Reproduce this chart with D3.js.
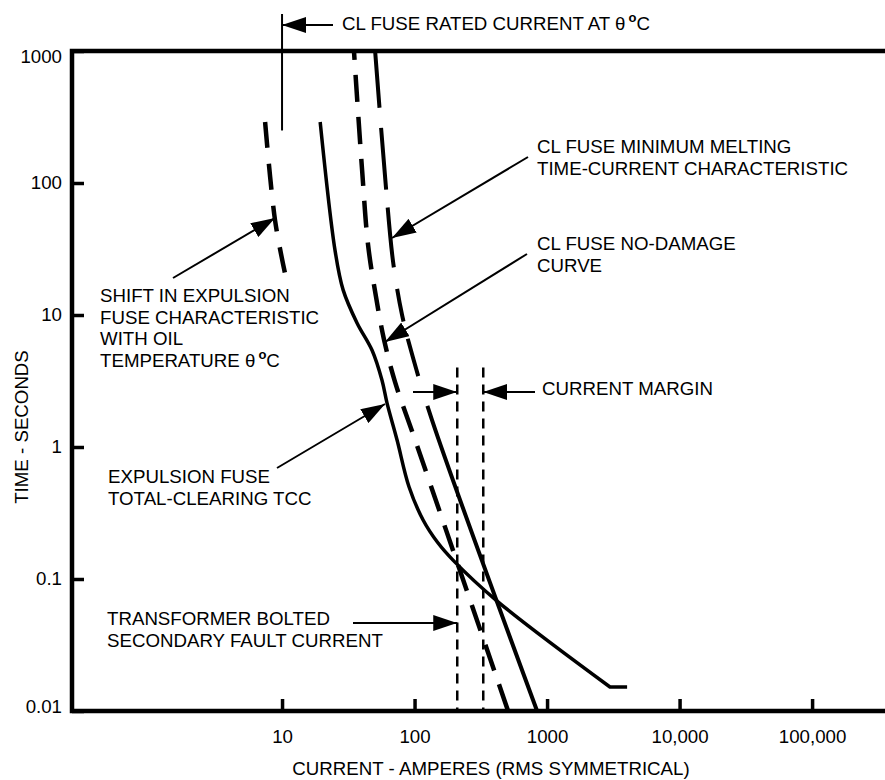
<!DOCTYPE html>
<html>
<head>
<meta charset="utf-8">
<script src="https://cdn.jsdelivr.net/npm/d3@7"></script>
<style>
  body { margin: 0; background: #fff; }
  svg text { font-family: "Liberation Sans", Arial, sans-serif; font-size: 18.7px; fill: #000; }
</style>
</head>
<body>
<div class="chartBox"></div>
<script>
// tick values
var xTicks = [10, 100, 1000, 10000, 100000];
var yTicks = [0.01, 0.1, 1, 10, 100, 1000];

// curves, each point is [current (A), time (s)]
var shiftedExpulsion = [[7.45, 290], [8.86, 52], [10.5, 21]];
var expulsionTCC = [[19.4, 290], [25.1, 31], [28.9, 15.5], [36.8, 8.7], [47.8, 5.4], [56.8, 3.2],
  [62, 2.15], [73.8, 1.13], [90.8, 0.5], [116, 0.28], [150, 0.188], [195, 0.139], [420, 0.068],
  [2985, 0.0152], [4018, 0.0152]];
var clMinMelt = [[50.4, 1000], [60.9, 91.6], [68.9, 25.2], [80.5, 10], [97.5, 4.72], [135.5, 1.6], [841, 0.01]];
var clNoDamage = [[34.9, 1000], [40.2, 125], [44.6, 33.9], [51.2, 13.7], [58.9, 6.47], [71.3, 3.1], [101, 1.13], [508, 0.01]];

// reference currents
var ratedCurrent = 10;
var faultCurrent = 210;
var marginCurrent = 330;
var marginTopTime = 4;

var W = 885, H = 780;
var margin = { top: 51, right: 0, bottom: 69, left: 72 };

var x = d3.scaleLog().domain([0.26, 355000]).range([margin.left, W - margin.right]);
var y = d3.scaleLog().domain([1000, 0.01]).range([margin.top, H - margin.bottom]);

var svg = d3.select('div.chartBox')
  .append('svg')
  .attr('width', W)
  .attr('height', H);

svg.append('defs').append('marker')
  .attr('id', 'ah')
  .attr('markerUnits', 'userSpaceOnUse')
  .attr('markerWidth', 24)
  .attr('markerHeight', 16)
  .attr('refX', 24)
  .attr('refY', 8)
  .attr('orient', 'auto')
  .append('path')
  .attr('d', 'M0,0L24,8L0,16Z')
  .attr('fill', '#000');

// axes
var fmtX = function(d) { return d >= 10000 ? d3.format(',')(d) : d; };

var gx = svg.append('g')
  .attr('transform', 'translate(0,' + y(0.01) + ')')
  .call(d3.axisBottom(x).tickValues(xTicks).tickSize(-12).tickPadding(19).tickFormat(fmtX));
gx.select('.domain').remove();
gx.selectAll('.tick line').attr('stroke', '#000').attr('stroke-width', 3.5);

var gy = svg.append('g')
  .attr('transform', 'translate(' + x(0.26) + ',0)')
  .call(d3.axisLeft(y).tickValues(yTicks).tickSize(-12).tickPadding(10).tickFormat(function(d) { return d; }));
gy.select('.domain').remove();
gy.selectAll('.tick line').attr('stroke', '#000').attr('stroke-width', 3.5);
gy.selectAll('.tick text').filter(function(d) { return d === 1000; }).attr('y', 6);
gy.selectAll('.tick text').filter(function(d) { return d === 0.01; }).attr('y', -4);

// frame: top, left, bottom
svg.append('path')
  .attr('d', 'M' + (W) + ',' + y(1000) + 'H' + x(0.26) + 'V' + y(0.01) + 'H' + W)
  .attr('fill', 'none')
  .attr('stroke', '#000')
  .attr('stroke-width', 4.5);

svg.append('text')
  .attr('transform', 'translate(28,427) rotate(-90)')
  .attr('text-anchor', 'middle')
  .text('TIME - SECONDS');

svg.append('text')
  .attr('x', 491)
  .attr('y', 775)
  .attr('text-anchor', 'middle')
  .text('CURRENT - AMPERES (RMS SYMMETRICAL)');

// curves
var line = d3.line()
  .x(function(d) { return x(d[0]); })
  .y(function(d) { return y(d[1]); })
  .curve(d3.curveCatmullRom.alpha(0.5));

svg.append('path').datum(shiftedExpulsion)
  .attr('d', line)
  .attr('fill', 'none').attr('stroke', '#000').attr('stroke-width', 4.5)
  .attr('stroke-dasharray', '26,16');

// TCC ends with a straight horizontal stub
var tccEnd = expulsionTCC[expulsionTCC.length - 1];
svg.append('path')
  .attr('d', line(expulsionTCC.slice(0, -1)) + 'L' + x(tccEnd[0]) + ',' + y(tccEnd[1]))
  .attr('fill', 'none').attr('stroke', '#000').attr('stroke-width', 3.5);

svg.append('path').datum(clMinMelt)
  .attr('d', line)
  .attr('fill', 'none').attr('stroke', '#000').attr('stroke-width', 4)
  .attr('stroke-dasharray', '57,20,62,18,60,22,33,18,39,31,3000');

svg.append('path').datum(clNoDamage)
  .attr('d', line)
  .attr('fill', 'none').attr('stroke', '#000').attr('stroke-width', 4.5)
  .attr('stroke-dasharray', '27,15').attr('stroke-dashoffset', 18);

// current margin dotted lines
svg.selectAll('line.margin')
  .data([faultCurrent, marginCurrent])
  .enter()
  .append('line')
  .attr('class', 'margin')
  .attr('x1', function(d) { return x(d); })
  .attr('x2', function(d) { return x(d); })
  .attr('y1', y(marginTopTime))
  .attr('y2', y(0.01))
  .attr('stroke', '#000')
  .attr('stroke-width', 2.5)
  .attr('stroke-dasharray', '10,7');

// rated current marker line
svg.append('line')
  .attr('x1', x(ratedCurrent)).attr('x2', x(ratedCurrent))
  .attr('y1', 14).attr('y2', y(250))
  .attr('stroke', '#000').attr('stroke-width', 2);

// leader arrows [x1, y1, x2, y2]
var leaders = [
  [333, 25, x(ratedCurrent), 25],
  [173, 278, 275, 218],
  [528, 157, 392, 238],
  [527, 254, 385, 342],
  [277, 468, 385, 404],
  [413, 392, x(faultCurrent), 392],
  [535, 392, x(marginCurrent), 392],
  [353, 623, x(faultCurrent), 623]
];

svg.selectAll('line.leader')
  .data(leaders)
  .enter()
  .append('line')
  .attr('class', 'leader')
  .attr('x1', function(d) { return d[0]; })
  .attr('y1', function(d) { return d[1]; })
  .attr('x2', function(d) { return d[2]; })
  .attr('y2', function(d) { return d[3]; })
  .attr('stroke', '#000')
  .attr('stroke-width', 2)
  .attr('marker-end', 'url(#ah)');

// labels
var labels = [
  { x: 537, y: 153, lines: ['CL FUSE MINIMUM MELTING', 'TIME-CURRENT CHARACTERISTIC'] },
  { x: 537, y: 250, lines: ['CL FUSE NO-DAMAGE', 'CURVE'] },
  { x: 542, y: 395, lines: ['CURRENT MARGIN'] },
  { x: 100, y: 302, lines: ['SHIFT IN EXPULSION', 'FUSE CHARACTERISTIC', 'WITH OIL'] },
  { x: 108, y: 483, lines: ['EXPULSION FUSE', 'TOTAL-CLEARING TCC'] },
  { x: 107, y: 625, lines: ['TRANSFORMER BOLTED', 'SECONDARY FAULT CURRENT'] }
];

labels.forEach(function(l) {
  var t = svg.append('text').attr('x', l.x).attr('y', l.y);
  l.lines.forEach(function(s, i) {
    t.append('tspan').attr('x', l.x).attr('dy', i === 0 ? 0 : 21.7).text(s);
  });
});

function degreeText(px, py, prefix) {
  var t = svg.append('text').attr('x', px).attr('y', py);
  t.append('tspan').text(prefix + '\u03B8');
  t.append('tspan').attr('dx', 3).attr('dy', -8)
    .style('font-size', '13px').style('font-weight', 'bold').text('o');
  t.append('tspan').attr('dy', 8).text('C');
}
degreeText(342, 30, 'CL FUSE RATED CURRENT AT ');
degreeText(100, 367, 'TEMPERATURE ');
</script>
</body>
</html>
